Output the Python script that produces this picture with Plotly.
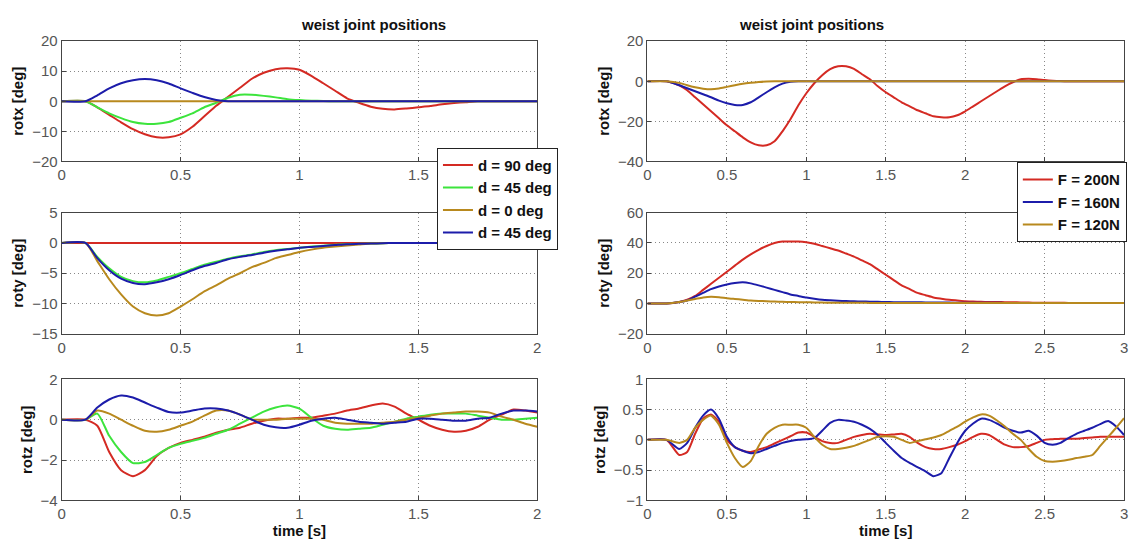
#%%
import plotly.graph_objects as go

#%% left column: waist joint positions for different directions d
t_l = [0, 0.1, 0.15, 0.2, 0.25, 0.3, 0.35, 0.4, 0.45, 0.5, 0.55, 0.6, 0.65, 0.7, 0.75, 0.8, 0.85, 0.9, 0.95,
       1.0, 1.05, 1.1, 1.15, 1.2, 1.25, 1.3, 1.35, 1.4, 1.45, 1.5, 1.55, 1.6, 1.65, 1.7, 1.75, 1.8, 1.85, 1.9, 1.95, 2.0]

rotx_d90 = [0, 0, -2, -4.5, -7, -9.3, -11, -12, -12, -11, -8.5, -5, -1.5, 1.5, 4.5, 7.5, 9.5, 10.7, 11,
            10.5, 8.5, 6, 3.5, 1, -0.5, -1.8, -2.5, -2.7, -2.4, -2, -1.6, -1, -0.6, -0.3, 0, 0, 0, 0, 0, 0]
rotx_d45 = [0, 0, -2, -4, -5.6, -6.9, -7.5, -7.5, -6.9, -5.5, -4, -2, -0.5, 1.2, 2.2, 2.2, 1.8, 1.3, 0.7,
            0.4, 0.2, 0.1, 0, 0, 0, 0, 0, 0, 0, 0, 0, 0, 0, 0, 0, 0, 0, 0, 0, 0]
rotx_d0 = [0] * 40
rotx_dm45 = [0, 0, 2, 4.3, 6, 7, 7.4, 7, 5.9, 4.3, 2.8, 1.4, 0.4, 0, 0, 0, 0, 0, 0,
             0, 0, 0, 0, 0, 0, 0, 0, 0, 0, 0, 0, 0, 0, 0, 0, 0, 0, 0, 0, 0]

roty_d90 = [0] * 40
roty_d45 = [0, 0, -2.3, -4.2, -5.6, -6.3, -6.5, -6.2, -5.6, -5, -4.3, -3.6, -3.1, -2.6, -2.2, -1.9, -1.5, -1.2, -1,
            -0.8, -0.6, -0.45, -0.3, -0.2, -0.15, -0.1, -0.05, 0, 0, 0, 0, 0, 0, 0, 0, 0, 0, 0, 0, 0]
roty_d0 = [0, 0, -3, -6, -8.5, -10.5, -11.6, -12, -11.6, -10.5, -9.3, -8, -7, -5.9, -5, -4, -3.3, -2.5, -2,
           -1.5, -1.1, -0.8, -0.6, -0.4, -0.25, -0.1, -0.05, 0, 0, 0, 0, 0, 0, 0, 0, 0, 0, 0, 0, 0]
roty_dm45 = [0, 0, -2.5, -4.5, -5.9, -6.6, -6.8, -6.5, -6, -5.3, -4.5, -3.8, -3.3, -2.7, -2.3, -2, -1.6, -1.3, -1.05,
             -0.8, -0.65, -0.5, -0.35, -0.2, -0.15, -0.1, -0.05, 0, 0, 0, 0, 0, 0, 0, 0, 0, 0, 0, 0, 0]

rotz_d90 = [0, 0, -0.3, -1.6, -2.5, -2.8, -2.5, -1.8, -1.4, -1.15, -1, -0.85, -0.65, -0.5, -0.4, -0.2, -0.05, 0.05, 0.05,
            0.1, 0.1, 0.2, 0.3, 0.45, 0.55, 0.7, 0.8, 0.65, 0.3, 0, -0.3, -0.5, -0.6, -0.55, -0.35, 0, 0.25, 0.5, 0.45, 0.35]
rotz_d45 = [0, 0, 0.3, -0.8, -1.6, -2.15, -2.1, -1.75, -1.4, -1.2, -1.05, -0.9, -0.7, -0.5, -0.2, 0.1, 0.4, 0.6, 0.7,
            0.55, 0.1, -0.3, -0.45, -0.5, -0.45, -0.4, -0.25, -0.1, 0.05, 0.15, 0.25, 0.3, 0.3, 0.3, 0.2, 0.1, 0, 0, 0.05, 0.1]
rotz_d0 = [0, 0, 0.45, 0.3, 0, -0.3, -0.55, -0.6, -0.5, -0.3, -0.1, 0.2, 0.45, 0.45, 0.25, 0, 0, 0, 0.05,
           0.05, 0.05, 0, -0.15, -0.2, -0.2, -0.2, -0.15, -0.1, 0, 0.1, 0.2, 0.3, 0.35, 0.4, 0.4, 0.35, 0.15, 0, -0.2, -0.35]
rotz_dm45 = [0, 0, 0.6, 1.0, 1.2, 1.1, 0.85, 0.6, 0.38, 0.35, 0.45, 0.55, 0.55, 0.45, 0.25, 0, -0.25, -0.38, -0.4,
             -0.25, -0.05, 0.05, 0.1, 0, -0.1, -0.15, -0.2, -0.15, -0.1, 0.05, 0.05, 0, -0.05, -0.05, 0.05, 0.1, 0.3, 0.45, 0.45, 0.4]

#%% right column: waist joint positions for different push forces F
t_r = [0, 0.12, 0.2, 0.25, 0.3, 0.35, 0.4, 0.45, 0.5, 0.55, 0.6, 0.65, 0.7, 0.75, 0.8, 0.85, 0.9, 0.95, 1.0, 1.05,
       1.1, 1.15, 1.2, 1.25, 1.3, 1.35, 1.4, 1.45, 1.5, 1.55, 1.6, 1.65, 1.7, 1.75, 1.8, 1.85, 1.9, 1.95, 2.0, 2.05,
       2.1, 2.15, 2.2, 2.25, 2.3, 2.35, 2.4, 2.45, 2.5, 2.55, 2.6, 2.65, 2.7, 2.75, 2.8, 2.85, 2.9, 2.95, 3.0]

rotx_f200 = [0, 0, -2, -4.5, -8, -11.5, -15, -18.5, -22, -25, -28, -30.5, -32, -32, -30, -25, -19, -12, -6, -1,
             3, 6, 7.5, 7.5, 6.2, 3.5, 1, -2.5, -5.5, -8, -10.5, -12.5, -14.5, -16, -17.5, -18, -18, -17, -15, -12.5,
             -10, -7.5, -5, -2.5, -0.5, 1, 1.2, 1, 0.6, 0.3, 0.1, 0, 0, 0, 0, 0, 0, 0, 0]
rotx_f160 = [0, 0, -2, -3.5, -5, -6.5, -8, -9.7, -11, -11.8, -11.8, -10.5, -8, -5.5, -3, -1.2, -0.3, 0, 0, 0,
             0, 0, 0, 0, 0, 0, 0, 0, 0, 0, 0, 0, 0, 0, 0, 0, 0, 0, 0, 0,
             0, 0, 0, 0, 0, 0, 0, 0, 0, 0, 0, 0, 0, 0, 0, 0, 0, 0, 0]
rotx_f120 = [0, 0, -0.8, -2, -3, -3.7, -4, -3.6, -2.8, -2, -1.3, -0.8, -0.4, -0.1, 0, 0, 0, 0, 0, 0,
             0, 0, 0, 0, 0, 0, 0, 0, 0, 0, 0, 0, 0, 0, 0, 0, 0, 0, 0, 0,
             0, 0, 0, 0, 0, 0, 0, 0, 0, 0, 0, 0, 0, 0, 0, 0, 0, 0, 0]

roty_f200 = [0, 0, 1, 2.5, 5, 9, 13, 17, 21, 25, 29, 32.5, 35.5, 38, 40, 41, 41, 41, 40.5, 39.5,
             38, 36.5, 35, 33, 31, 28.5, 26, 22.5, 19, 15.5, 12, 9.5, 7, 5.5, 4, 3.2, 2.5, 2, 1.5, 1.3,
             1.1, 1, 1, 0.9, 0.8, 0.7, 0.6, 0.55, 0.5, 0.5, 0.45, 0.4, 0.4, 0.35, 0.35, 0.3, 0.3, 0.3, 0.3]
roty_f160 = [0, 0, 1, 2, 4.5, 7, 9.5, 11.2, 12.5, 13.5, 14, 13.3, 12, 10.5, 9, 7.5, 6, 5, 4, 3.2,
             2.5, 2.1, 1.8, 1.6, 1.5, 1.3, 1.2, 1.1, 1, 0.9, 0.9, 0.8, 0.8, 0.7, 0.7, 0.6, 0.6, 0.55, 0.5, 0.5,
             0.5, 0.45, 0.45, 0.4, 0.4, 0.4, 0.35, 0.35, 0.35, 0.35, 0.3, 0.3, 0.3, 0.3, 0.3, 0.3, 0.3, 0.3, 0.3]
roty_f120 = [0, 0, 1, 2, 3, 4, 4.5, 4.2, 3.5, 3, 2.5, 2, 1.7, 1.5, 1.3, 1.1, 1, 0.9, 0.8, 0.7,
             0.6, 0.55, 0.5, 0.5, 0.45, 0.45, 0.4, 0.4, 0.4, 0.35, 0.35, 0.35, 0.35, 0.3, 0.3, 0.3, 0.3, 0.3, 0.3, 0.3,
             0.3, 0.3, 0.3, 0.3, 0.3, 0.3, 0.3, 0.3, 0.3, 0.3, 0.3, 0.3, 0.3, 0.3, 0.3, 0.3, 0.3, 0.3, 0.3]

rotz_f200 = [0, 0, -0.25, -0.2, 0.1, 0.35, 0.42, 0.3, 0, -0.12, -0.18, -0.2, -0.16, -0.12, -0.06, 0, 0.06, 0.12, 0.12, 0.05,
             -0.02, -0.05, -0.05, 0, 0.05, 0.08, 0.1, 0.09, 0.08, 0.09, 0.1, 0.05, -0.05, -0.12, -0.15, -0.15, -0.12, -0.08, -0.02, 0.05,
             0.1, 0.08, 0, -0.08, -0.12, -0.12, -0.1, -0.05, 0, 0.01, 0.02, 0.02, 0.02, 0.03, 0.04, 0.05, 0.05, 0.05, 0.05]
rotz_f160 = [0, 0, -0.15, -0.05, 0.2, 0.4, 0.5, 0.35, 0.05, -0.12, -0.18, -0.22, -0.2, -0.15, -0.1, -0.05, -0.02, 0, 0.01, 0.03,
             0.15, 0.28, 0.33, 0.32, 0.3, 0.25, 0.18, 0.08, -0.05, -0.18, -0.3, -0.38, -0.45, -0.52, -0.6, -0.55, -0.3, -0.05, 0.15, 0.27,
             0.35, 0.33, 0.27, 0.2, 0.15, 0.12, 0.15, 0.07, -0.05, -0.08, -0.05, 0.03, 0.1, 0.15, 0.2, 0.26, 0.31, 0.22, 0.08]
rotz_f120 = [0, 0, -0.05, 0, 0.2, 0.33, 0.4, 0.25, -0.05, -0.3, -0.45, -0.35, -0.1, 0.1, 0.2, 0.25, 0.25, 0.25, 0.2, 0.05,
             -0.08, -0.15, -0.15, -0.13, -0.1, -0.05, 0, 0.05, 0.06, 0.05, 0, -0.05, -0.02, 0.01, 0.04, 0.08, 0.15, 0.22, 0.3, 0.37,
             0.42, 0.4, 0.32, 0.22, 0.1, 0, -0.15, -0.28, -0.35, -0.36, -0.35, -0.33, -0.3, -0.28, -0.25, -0.1, 0.05, 0.2, 0.36]

# tick labels (the ones under the legends are hidden in the original)
x_ticks_l = [0, 0.5, 1, 1.5, 2]
x_ticks_r = [0, 0.5, 1, 1.5, 2, 2.5, 3]
x_text_l = ['0', '0.5', '1', '1.5', '2']
x_text_r = ['0', '0.5', '1', '1.5', '2', '2.5', '3']

#%%
RED = '#d42a23'
GREEN = '#3ce43c'
GOLD = '#b8891e'
BLUE = '#1c1caa'

left_series = [('d = 90 deg', RED, [rotx_d90, roty_d90, rotz_d90]),
               ('d = 45 deg', GREEN, [rotx_d45, roty_d45, rotz_d45]),
               ('d = 0 deg', GOLD, [rotx_d0, roty_d0, rotz_d0]),
               ('d = 45 deg', BLUE, [rotx_dm45, roty_dm45, rotz_dm45])]
right_series = [('F = 200N', RED, [rotx_f200, roty_f200, rotz_f200]),
                ('F = 160N', BLUE, [rotx_f160, roty_f160, rotz_f160]),
                ('F = 120N', GOLD, [rotx_f120, roty_f120, rotz_f120])]

# the page body adds an 8px margin, so work in window pixels and shift
OFF = 8
W, H = 1137 - OFF, 552 - OFF
rows_px = [(33, 157), (210, 335), (382, 507)]
left_px = (58, 537)
right_px = (648, 1128)


def px_x(p):
    return (p - OFF) / W


def px_y(p):
    return 1 - (p - OFF) / H


fig = go.Figure()

# axis numbering: left rows 1..3, right rows 4..6
for col, (series, t, legend) in enumerate([(left_series, t_l, 'legend'), (right_series, t_r, 'legend2')]):
    for row in range(3):
        n = col * 3 + row + 1
        xa = 'x' if n == 1 else f'x{n}'
        ya = 'y' if n == 1 else f'y{n}'
        for name, color, ys in series:
            fig.add_trace(go.Scatter(x=t, y=ys[row], mode='lines', name=name,
                                     line=dict(color=color, width=2, shape='spline', smoothing=0.6),
                                     xaxis=xa, yaxis=ya, legend=legend,
                                     showlegend=(row == 0)))

FONT = 'Liberation Sans, Arial'
tick_font = dict(family=FONT, size=15, color='#555')
title_font = dict(family=FONT, size=15, color='#111')

y_ranges = [[-20, 20], [-15, 5], [-4, 2], [-40, 20], [-20, 60], [-1, 1]]
y_dticks = [10, 5, 2, 20, 20, 0.5]
y_titles = ['<b>rotx [deg]</b>', '<b>roty [deg]</b>', '<b>rotz [deg]</b>'] * 2

layout = {}
for n in range(1, 7):
    col = (n - 1) // 3
    row = (n - 1) % 3
    xp = left_px if col == 0 else right_px
    top, bot = rows_px[row]
    common = dict(showline=True, mirror=True, linecolor='#444', linewidth=1,
                  ticks='inside', ticklen=4, tickcolor='#444',
                  showgrid=True, gridcolor='#888', griddash='1px,3px', gridwidth=1,
                  zeroline=False, tickfont=tick_font)
    if col == 0:
        tv = x_ticks_l
        tt = list(x_text_l)
        if row == 0:
            tt[4] = ''
    else:
        tv = x_ticks_r
        tt = list(x_text_r)
        if row == 0:
            tt[5] = ''
            tt[6] = ''
    xkey = 'xaxis' if n == 1 else f'xaxis{n}'
    ykey = 'yaxis' if n == 1 else f'yaxis{n}'
    layout[xkey] = dict(common, domain=[px_x(xp[0]), px_x(xp[1])],
                        range=[0, 2] if col == 0 else [0, 3],
                        tickvals=tv, ticktext=tt,
                        anchor='y' if n == 1 else f'y{n}',
                        title=dict(text='<b>time [s]</b>' if row == 2 else '', font=title_font, standoff=2))
    layout[ykey] = dict(common, domain=[px_y(bot), px_y(top)],
                        range=y_ranges[n - 1], dtick=y_dticks[n - 1],
                        anchor='x' if n == 1 else f'x{n}',
                        title=dict(text=y_titles[n - 1], font=title_font, standoff=4))

fig.update_layout(**layout)

legend_style = dict(bgcolor='white', bordercolor='#222', borderwidth=1,
                    font=dict(family=FONT, size=15, color='#111', weight='bold'),
                    xanchor='left', yanchor='top', tracegroupgap=0)
fig.update_layout(
    width=W, height=H,
    margin=dict(l=0, r=0, t=0, b=0),
    paper_bgcolor='white', plot_bgcolor='white',
    legend=dict(legend_style, x=px_x(436), y=px_y(143)),
    legend2=dict(legend_style, x=px_x(1020), y=px_y(158)),
    annotations=[
        dict(text='<b>weist joint positions</b>', x=px_x((left_px[0] + left_px[1]) / 2), y=px_y(16),
             xref='paper', yref='paper', showarrow=False, font=title_font, yanchor='middle'),
        dict(text='<b>weist joint positions</b>', x=px_x((right_px[0] + right_px[1]) / 2), y=px_y(16),
             xref='paper', yref='paper', showarrow=False, font=title_font, yanchor='middle'),
    ],
)

fig.write_html("out.html")
